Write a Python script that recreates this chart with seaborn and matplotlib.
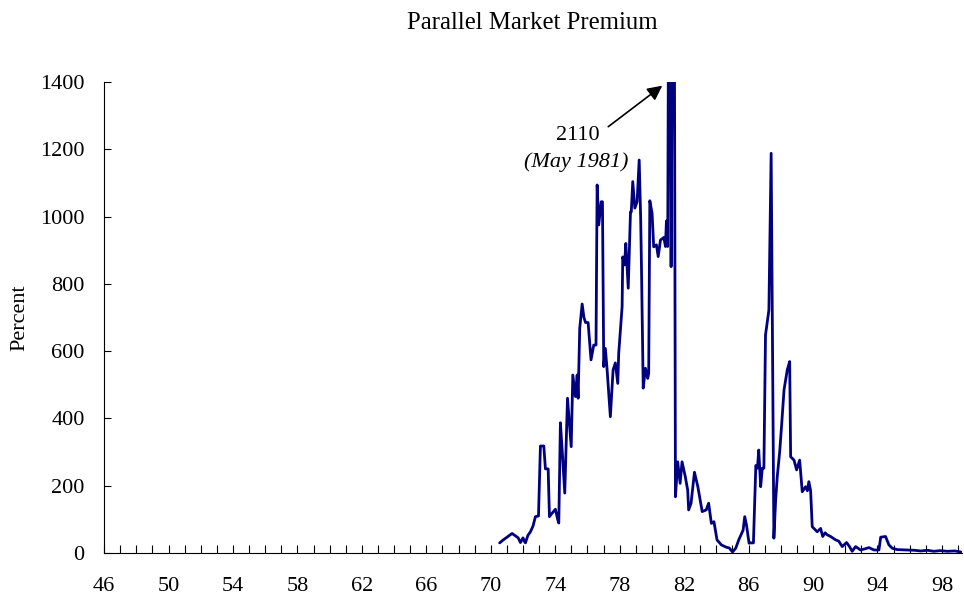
import matplotlib
matplotlib.use("Agg")
import matplotlib.pyplot as plt
import seaborn as sns
import pandas as pd

# monthly-ish readings of the parallel market premium (decimal year, percent)
years = [70.55, 70.75, 70.95, 71.15, 71.32, 71.5, 71.7, 71.84, 72.0, 72.08, 72.15, 72.3,
         72.46, 72.62, 72.77, 72.96, 73.08, 73.29, 73.39, 73.56, 73.64, 73.8, 74.01, 74.15,
         74.22, 74.32, 74.45, 74.59, 74.76, 74.99, 75.09, 75.25, 75.36, 75.42, 75.52, 75.67,
         75.78, 75.88, 76.04, 76.22, 76.39, 76.53, 76.6, 76.7, 76.85, 76.93, 77.01, 77.11,
         77.22, 77.42, 77.59, 77.73, 77.88, 77.94, 78.15, 78.19, 78.3, 78.38, 78.53, 78.67,
         78.72, 78.81, 78.94, 79.08, 79.21, 79.3, 79.35, 79.46, 79.6, 79.74, 79.8, 79.87,
         80.01, 80.11, 80.28, 80.39, 80.53, 80.74, 80.84, 80.9, 80.98, 81.04, 81.12, 81.19,
         81.29, 81.37, 81.46, 81.6, 81.75, 81.87, 82.07, 82.22, 82.28, 82.43, 82.64, 82.85,
         83.12, 83.37, 83.52, 83.69, 83.85, 84.04, 84.31, 84.62, 84.8, 85.0, 85.2, 85.39,
         85.66, 85.76, 85.87, 86.03, 86.12, 86.3, 86.45, 86.55, 86.63, 86.75, 86.85, 86.95,
         87.05, 87.26, 87.4, 87.57, 87.68, 87.78, 87.93, 88.05, 88.2, 88.4, 88.55, 88.61,
         88.82, 88.98, 89.17, 89.33, 89.54, 89.65, 89.74, 89.85, 89.95, 90.26, 90.47, 90.6,
         90.75, 90.88, 91.09, 91.4, 91.6, 91.81, 92.08, 92.25, 92.43, 92.64, 92.95, 93.2,
         93.47, 93.78, 94.09, 94.2, 94.5, 94.71, 94.92, 95.23, 95.86, 96.3, 96.68, 97.1,
         97.5, 97.9, 98.33, 98.8, 99.17]
premium = [30, 38, 45, 52, 58, 52, 45, 31, 45, 35, 30, 52,
           63, 80, 108, 110, 318, 318, 250, 250, 108, 118, 130, 100,
           89, 387, 290, 178, 460, 316, 529, 465, 529, 460, 668, 740,
           700, 685, 685, 574, 618, 618, 1094, 975, 1044, 1044, 554, 608,
           544, 405, 544, 565, 504, 594, 732, 880, 856, 920, 787, 1014,
           1014, 1104, 1025, 1044, 1168, 1000, 856, 490, 549, 519, 534, 1047,
           1010, 910, 916, 881, 930, 938, 911, 987, 911, 1750, 1750, 851,
           1800, 2110, 167, 271, 207, 271, 227, 187, 128, 148, 240, 197,
           123, 128, 148, 88, 93, 39, 24, 17, 15, 3, 14, 39,
           68, 108, 83, 29, 30, 30, 260, 252, 306, 197, 252, 252,
           648, 722, 1188, 44, 158, 227, 301, 380, 485, 544, 569, 286,
           276, 247, 276, 182, 197, 185, 212, 185, 78, 63, 73, 49,
           60, 54, 49, 39, 35, 19, 31, 20, 5, 19, 9, 12,
           16, 9, 9, 47, 49, 24, 14, 10, 9, 8, 6, 8,
           5, 7, 5, 6, 3]

df = pd.DataFrame({"year": years, "premium": premium})

sns.set_style("ticks")
plt.rcParams['font.family'] = ['Liberation Serif', 'DejaVu Serif']
plt.rcParams['font.size'] = 16
# plain black text everywhere (seaborn defaults to dark grey)
for k in ["text.color", "axes.labelcolor", "xtick.color", "ytick.color", "axes.edgecolor"]:
    plt.rcParams[k] = "black"

fig = plt.figure(figsize=(9.64, 6.01), dpi=100)
ax = fig.add_axes([0.108, 0.0799, 0.89, 0.7837])

sns.lineplot(data=df, x="year", y="premium", sort=False, estimator=None,
             color="#000080", linewidth=2.0, ax=ax)

ax.set_xlim(46, 99.25)
ax.set_ylim(0, 1400)
ax.set_xticks(range(46, 99, 4))
ax.set_xticklabels([str(y) for y in range(46, 99, 4)])
ax.set_xticks(range(46, 100), minor=True)
ax.set_yticks(range(0, 1401, 200))
ax.tick_params(axis="x", which="both", direction="in", length=6, width=0.8,
               pad=17, labelsize=16)
ax.tick_params(axis="y", direction="in", length=5, width=0.8, pad=14, labelsize=16)
ax.set_xlabel("")
ax.set_ylabel("Percent", fontsize=16, labelpad=8)
sns.despine(ax=ax)
for s in ["left", "bottom"]:
    ax.spines[s].set_linewidth(0.8)

fig.suptitle("Parallel Market Premium", x=0.552, y=0.98, fontsize=17.8)

ax.annotate("", xy=(80.78, 1394), xytext=(77.15, 1262),
            arrowprops=dict(arrowstyle="-|>", color="black", lw=1.2, mutation_scale=22),
            annotation_clip=False)
ax.text(75.4, 1242, "2110", ha="center", va="center", fontsize=16)
ax.text(75.3, 1162, "(May 1981)", ha="center", va="center", fontsize=16, style="italic")

fig.savefig("out.png", dpi=100)
